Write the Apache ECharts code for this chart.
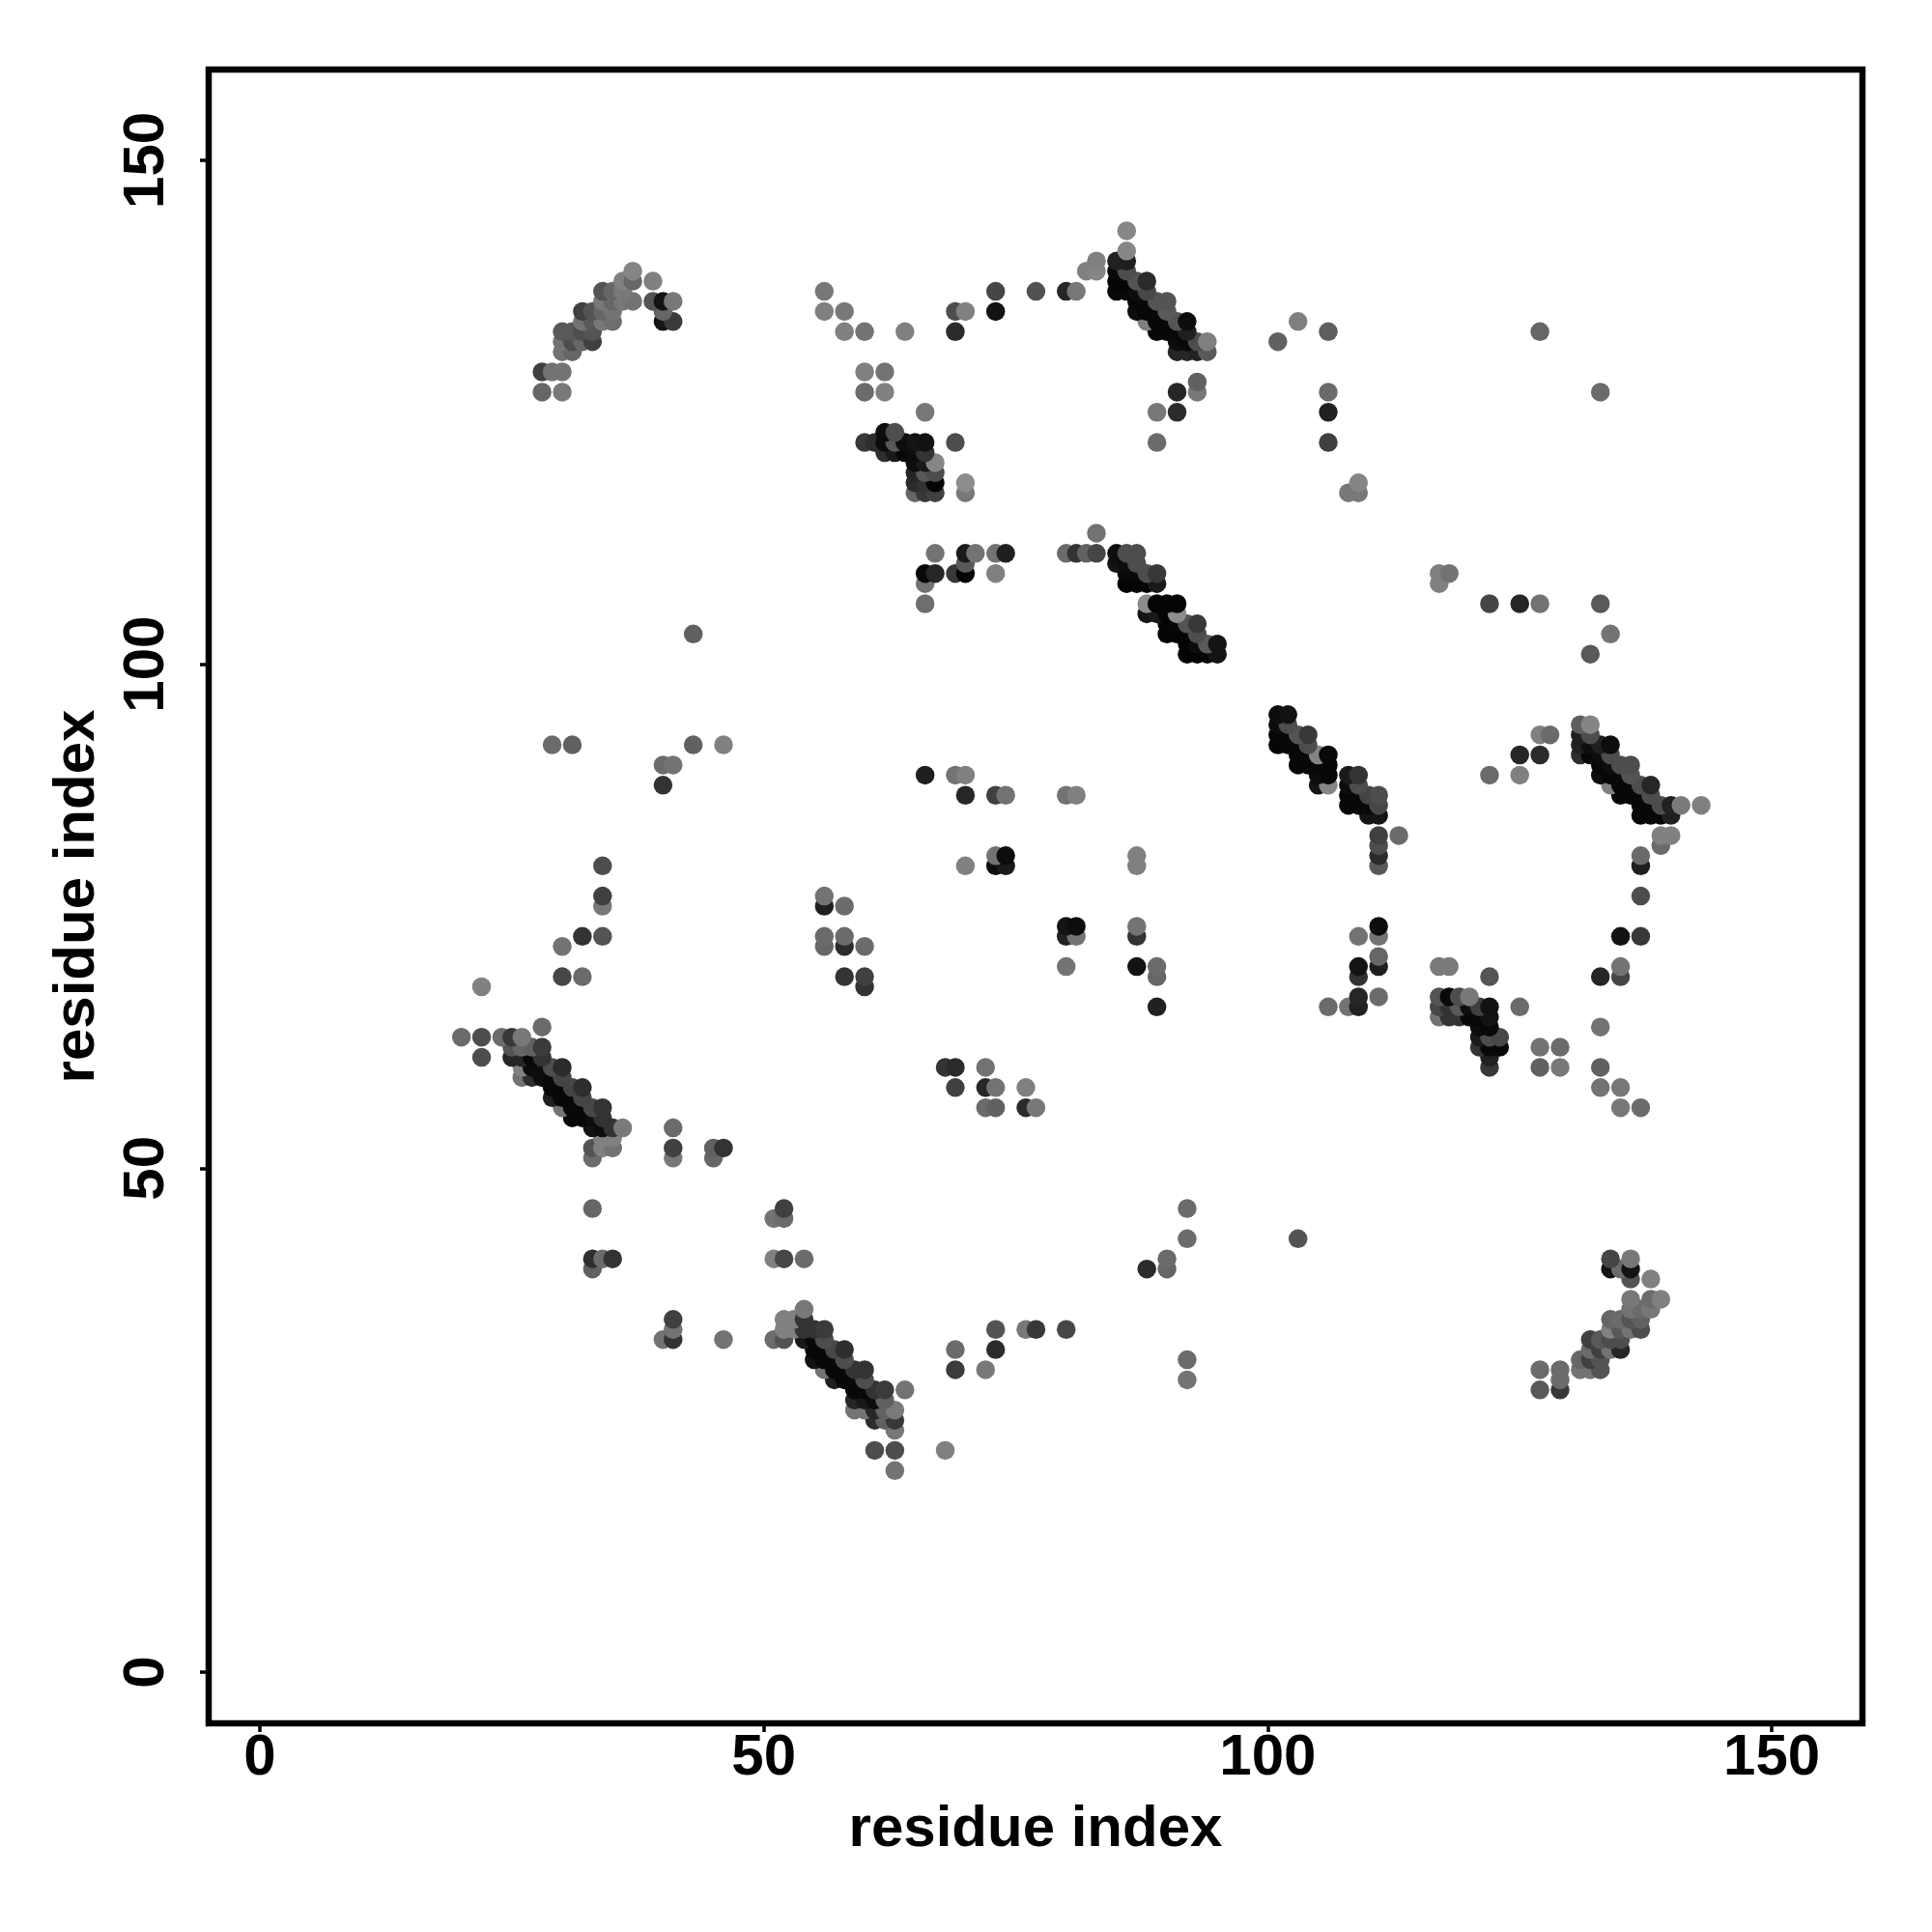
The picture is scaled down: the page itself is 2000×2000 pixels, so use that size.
<!DOCTYPE html>
<html><head><meta charset="utf-8">
<script src="https://cdn.jsdelivr.net/npm/echarts@6/dist/echarts.min.js"></script>
<style>html,body{margin:0;background:#fff}#c{width:2000px;height:2000px}</style></head>
<body><div id="c"></div><script>
const tickValues=[0,50,100,150];
const axisTitle='residue index';
// each contact: [residue i, residue j, grey level 0..1]
const arcTopLeft=[[28,129,.25],[29,129,.45],[30,129,.45],[28,127,.4],[30,127,.47],[37,139,.52],[36,138,.5],[37,138,.4],[39,138,.5],[34,137,.33],[35,137,.4],[36,137,.47],[37,136,.45],[36,136,.47],[35,136,.4],[34,136,.47],[39,136,.33],[40,136,.08],[41,136,.47],[32,135,.25],[33,135,.33],[34,135,.4],[35,135,.45],[40,135,.4],[32,134,.45],[33,134,.35],[34,134,.47],[35,134,.43],[40,134,.08],[41,134,.23],[30,133,.35],[31,133,.35],[32,133,.3],[33,133,.33],[30,132,.45],[31,132,.3],[32,132,.4],[33,132,.25],[30,131,.45],[31,131,.4]];
const topMiddle=[[56,137,.47],[56,135,.5],[58,135,.47],[58,133,.5],[60,133,.45],[64,133,.5],[69,135,.3],[70,135,.5],[69,133,.17],[60,129,.5],[62,129,.45],[60,127,.42],[62,127,.5],[66,125,.47],[60,122,.22],[61,122,.18],[62,122,.05],[63,122,.35],[64,122,.05],[65,122,.08],[66,122,.07],[69,122,.3],[62,123,.05],[63,123,.3],[62,121,.18],[63,121,.1],[64,121,.03],[65,121,.05],[66,121,.2],[65,120,.05],[66,120,.1],[67,120,.52],[65,119,.15],[66,119,.35],[67,119,.3],[65,118,.17],[66,118,.2],[67,118,.02],[65,117,.4],[66,117,.22],[67,117,.25],[70,118,.55],[70,117,.47]];
const rowEleven=[[67,111,.45],[66,109,.03],[67,109,.15],[66,108,.45],[66,106,.43],[70,111,.1],[71,111,.45],[70,110,.35],[69,109,.22],[70,109,.02],[73,111,.45],[74,111,.12],[73,109,.5],[80,111,.42],[81,111,.2],[82,111,.38],[83,111,.27],[83,113,.45]];
const stripA=[[85,111,.05],[86,111,.3],[87,111,.3],[85,110,.08],[86,110,.05],[87,110,.3],[86,109,.03],[87,109,.03],[88,109,.3],[89,109,.22],[86,108,.02],[87,108,.02],[88,108,.02],[89,108,.1],[88,106,.55],[89,106,.02],[90,106,.02],[91,106,.02],[88,105,.08],[89,105,.1],[90,105,.02],[91,105,.55],[90,104,.02],[91,104,.03],[92,104,.33],[93,104,.22],[90,103,.02],[91,103,.02],[92,103,.02],[93,103,.3],[92,102,.02],[93,102,.05],[94,102,.35],[95,102,.08],[92,101,.02],[93,101,.02],[94,101,.02],[95,101,.08]];
const stripB=[[86,143,.53],[86,141,.53],[83,140,.5],[82,139,.5],[83,139,.52],[73,137,.27],[77,137,.32],[80,137,.15],[81,137,.47],[73,135,.07],[85,140,.13],[86,140,.12],[85,139,.03],[86,139,.3],[85,138,.02],[86,138,.02],[87,138,.33],[88,138,.17],[85,137,.03],[86,137,.03],[87,137,.05],[88,137,.28],[87,136,.03],[88,136,.03],[89,136,.33],[90,136,.33],[87,135,.05],[88,135,.03],[89,135,.03],[90,135,.35],[88,134,.5],[89,134,.03],[90,134,.03],[91,134,.33],[92,134,.05],[89,133,.03],[90,133,.03],[91,133,.03],[92,133,.12],[91,132,.05],[92,132,.03],[93,132,.3],[94,132,.5],[91,131,.15],[92,131,.15],[93,131,.13],[94,131,.35]];
const topRight=[[93,128,.38],[93,127,.47],[91,127,.15],[91,125,.17],[89,125,.47],[89,122,.42],[103,134,.5],[106,133,.37],[101,132,.38],[106,127,.42],[106,125,.13],[106,122,.25],[108,117,.47],[109,118,.52],[109,117,.47],[127,133,.4],[133,127,.42],[117,109,.5],[118,109,.45],[117,108,.5],[122,106,.27],[125,106,.15],[127,106,.45],[133,106,.35],[134,103,.45],[132,101,.35]];
const midRow=[[43,103,.38],[29,92,.42],[31,92,.38],[43,92,.38],[46,92,.5],[40,90,.42],[41,90,.45],[40,88,.2],[66,89,.12],[69,89,.45],[70,89,.5],[70,87,.15],[73,87,.25],[74,87,.45],[80,87,.45],[81,87,.5],[73,81,.45],[74,81,.05],[73,80,.05],[74,80,.1],[70,80,.5],[87,81,.5],[87,80,.5]];
const stripC=[[101,95,.05],[102,95,.07],[101,94,.05],[102,94,.3],[101,93,.03],[102,93,.03],[103,93,.33],[104,93,.22],[101,92,.02],[102,92,.03],[103,92,.03],[104,92,.3],[103,91,.03],[104,91,.03],[105,91,.52],[106,91,.03],[103,90,.03],[104,90,.03],[105,90,.03],[106,90,.03],[105,89,.05],[106,89,.03],[105,88,.08],[106,88,.52],[108,89,.1],[109,89,.2],[108,88,.05],[109,88,.3],[108,87,.03],[109,87,.03],[110,87,.27],[111,87,.3],[108,86,.03],[109,86,.03],[110,86,.03],[111,86,.28],[110,85,.08],[111,85,.08],[111,83,.25],[113,83,.42],[111,82,.3],[111,81,.17],[111,80,.35]];
const stripD=[[127,93,.5],[128,93,.42],[125,91,.15],[127,91,.17],[122,89,.42],[125,89,.5],[131,94,.37],[132,94,.52],[131,93,.13],[132,93,.3],[131,92,.13],[132,92,.05],[133,92,.12],[134,92,.05],[131,91,.18],[132,91,.03],[133,91,.05],[134,91,.3],[133,90,.03],[134,90,.05],[135,90,.3],[136,90,.3],[133,89,.05],[134,89,.03],[135,89,.03],[136,89,.33],[134,88,.5],[135,88,.03],[136,88,.03],[137,88,.3],[138,88,.15],[135,87,.03],[136,87,.03],[137,87,.03],[138,87,.3],[137,86,.03],[138,86,.03],[139,86,.3],[140,86,.13],[141,86,.48],[143,86,.5],[137,85,.03],[138,85,.03],[139,85,.03],[140,85,.12],[139,83,.5],[140,83,.5],[139,82,.42],[137,81,.42],[137,80,.12],[137,77,.3]];
const midLeft=[[34,80,.3],[34,77,.25],[34,76,.47],[32,73,.2],[34,73,.33],[30,72,.45],[30,69,.28],[32,69,.42],[22,68,.5],[56,77,.45],[56,76,.12],[58,76,.42],[56,73,.42],[56,72,.4],[58,73,.42],[58,72,.17],[60,72,.42],[58,69,.2],[60,69,.25],[60,68,.2]];
const midCentre=[[80,74,.08],[81,74,.05],[80,73,.13],[81,73,.45],[80,70,.45],[87,74,.45],[87,73,.2],[87,70,.07],[89,70,.42],[89,69,.4],[89,66,.13],[109,73,.45],[111,74,.05],[111,73,.45],[111,71,.4],[109,70,.08],[111,70,.12],[109,69,.2],[109,67,.15],[109,66,.13],[111,67,.42],[106,66,.42],[108,66,.45]];
const midRight=[[133,69,.15],[135,69,.27],[135,70,.45],[135,73,.07],[137,73,.22],[122,69,.33],[117,70,.48],[118,70,.48],[117,67,.33],[118,67,.03],[119,67,.3],[120,67,.47],[117,66,.28],[118,66,.2],[119,66,.35],[120,66,.05],[121,66,.25],[122,66,.07],[125,66,.42],[117,65,.45],[118,65,.2],[119,65,.2],[120,65,.03],[121,65,.03],[122,65,.08],[121,64,.05],[122,64,.03],[121,63,.1],[122,63,.3],[123,63,.28],[121,62,.2],[122,62,.03],[123,62,.03],[122,61,.13],[122,60,.22],[127,62,.45],[129,62,.42],[127,60,.38],[129,60,.47],[133,64,.45],[133,60,.38],[133,58,.45],[135,58,.47],[135,56,.47],[137,56,.42]];
const stripE=[[28,64,.42],[20,63,.42],[22,63,.3],[24,63,.42],[25,63,.22],[26,63,.47],[25,62,.33],[26,62,.4],[27,62,.38],[28,62,.23],[22,61,.3],[25,61,.15],[26,61,.15],[27,61,.03],[28,61,.2],[26,60,.5],[27,60,.05],[28,60,.05],[29,60,.3],[30,60,.17],[26,59,.45],[27,59,.18],[28,59,.05],[29,59,.03],[30,59,.27],[29,58,.03],[30,58,.03],[31,58,.27],[32,58,.18],[29,57,.12],[30,57,.03],[31,57,.03],[32,57,.27],[30,56,.45],[31,56,.03],[32,56,.03],[33,56,.28],[34,56,.2],[31,55,.03],[32,55,.03],[33,55,.05],[34,55,.2],[33,54,.08],[34,54,.05],[35,54,.2],[36,54,.48],[34,53,.5],[35,53,.5],[33,52,.33],[34,52,.5],[35,52,.45],[33,51,.42],[41,54,.42],[41,52,.25],[41,51,.47],[45,52,.38],[46,52,.2],[45,51,.4],[33,46,.4],[33,41,.18],[34,41,.42],[35,41,.2],[33,40,.38]];
const stripF=[[54,36,.47],[52,35,.5],[53,35,.5],[52,34,.5],[53,34,.5],[51,33,.42],[52,33,.32],[54,35,.2],[54,34,.2],[55,34,.2],[56,34,.23],[54,33,.1],[55,33,.03],[56,33,.3],[55,32,.03],[56,32,.03],[57,32,.28],[58,32,.18],[55,31,.07],[56,31,.03],[57,31,.03],[58,31,.3],[56,30,.45],[57,30,.03],[58,30,.03],[59,30,.2],[60,30,.2],[57,29,.12],[58,29,.03],[59,29,.03],[60,29,.3],[59,28,.03],[60,28,.03],[61,28,.2],[62,28,.23],[64,28,.45],[59,27,.15],[60,27,.1],[61,27,.05],[62,27,.38],[59,26,.45],[60,26,.45],[61,26,.15],[62,26,.38],[63,26,.48],[61,25,.18],[62,25,.38],[63,25,.22],[63,24,.47],[61,22,.3],[63,22,.3],[63,20,.45],[68,22,.5]];
const lowerMiddle=[[69,32,.42],[69,30,.23],[72,30,.47],[73,34,.33],[73,32,.17],[76,34,.47],[77,34,.22],[80,34,.28],[41,35,.25],[41,34,.45],[40,33,.45],[41,33,.2],[46,33,.45],[51,45,.45],[52,46,.25],[52,45,.42],[51,41,.5],[52,41,.28],[54,41,.42],[88,40,.17],[90,41,.42],[90,40,.4],[92,46,.42],[92,43,.42],[103,43,.33],[92,31,.42],[92,29,.45],[68,60,.2],[69,60,.17],[69,58,.25],[72,60,.45],[72,58,.15],[73,58,.45],[72,56,.42],[73,56,.38],[76,58,.5],[76,56,.17],[77,56,.47]];
const arcBottomRight=[[134,41,.27],[136,41,.47],[134,40,.08],[135,40,.42],[136,40,.08],[136,39,.33],[138,39,.5],[136,37,.47],[138,37,.42],[139,37,.5],[136,36,.45],[137,36,.42],[138,36,.47],[134,35,.4],[135,35,.42],[136,35,.33],[137,35,.38],[134,34,.5],[135,34,.35],[136,34,.45],[137,34,.3],[132,33,.25],[133,33,.35],[134,33,.3],[135,33,.3],[132,32,.42],[133,32,.25],[134,32,.45],[135,32,.15],[131,31,.4],[132,31,.25],[133,31,.33],[131,30,.45],[132,30,.45],[133,30,.33],[127,30,.42],[129,30,.42],[129,29,.42],[127,28,.35],[129,28,.22]];

// points paint bottom row first, left to right within a row
const contacts=[].concat(arcTopLeft,topMiddle,rowEleven,stripA,stripB,topRight,midRow,stripC,stripD,midLeft,midCentre,midRight,stripE,stripF,lowerMiddle,arcBottomRight)
  .sort((a,b)=>a[1]-b[1]||a[0]-b[0]);
const grey=g=>{const v=Math.round(g*255);return `rgb(${v},${v},${v})`;};
const font={fontFamily:'Liberation Sans',fontWeight:'bold',fontSize:60,color:'#000'};
function axis(extra){return Object.assign({
  type:'value',min:-5.08,max:159,name:axisTitle,nameLocation:'middle',
  nameTextStyle:font,splitLine:{show:false},axisLine:{show:false,onZero:false},
  axisTick:{show:true,length:9,inside:false,lineStyle:{color:'#000',width:3.5},customValues:tickValues},
  axisLabel:Object.assign({},font,{customValues:tickValues,showMinLabel:true,showMaxLabel:true})
},extra);}
const chart=echarts.init(document.getElementById('c'),null,{renderer:'canvas'});
const xA=axis({nameGap:80});
xA.axisLabel.margin=6;
const yA=axis({nameGap:106});
yA.axisLabel.rotate=90;yA.axisLabel.margin=34;
chart.setOption({
  animation:false,backgroundColor:'#fff',
  grid:{show:true,left:216,right:72,top:72,bottom:216,borderColor:'#000',borderWidth:6.5,backgroundColor:'transparent'},
  xAxis:xA,yAxis:yA,
  series:[{type:'scatter',symbol:'circle',symbolSize:19.5,progressive:0,large:false,
    data:contacts.map(c=>({value:c,itemStyle:{color:grey(c[2]),opacity:1}})),z:1}]
});
</script></body></html>
